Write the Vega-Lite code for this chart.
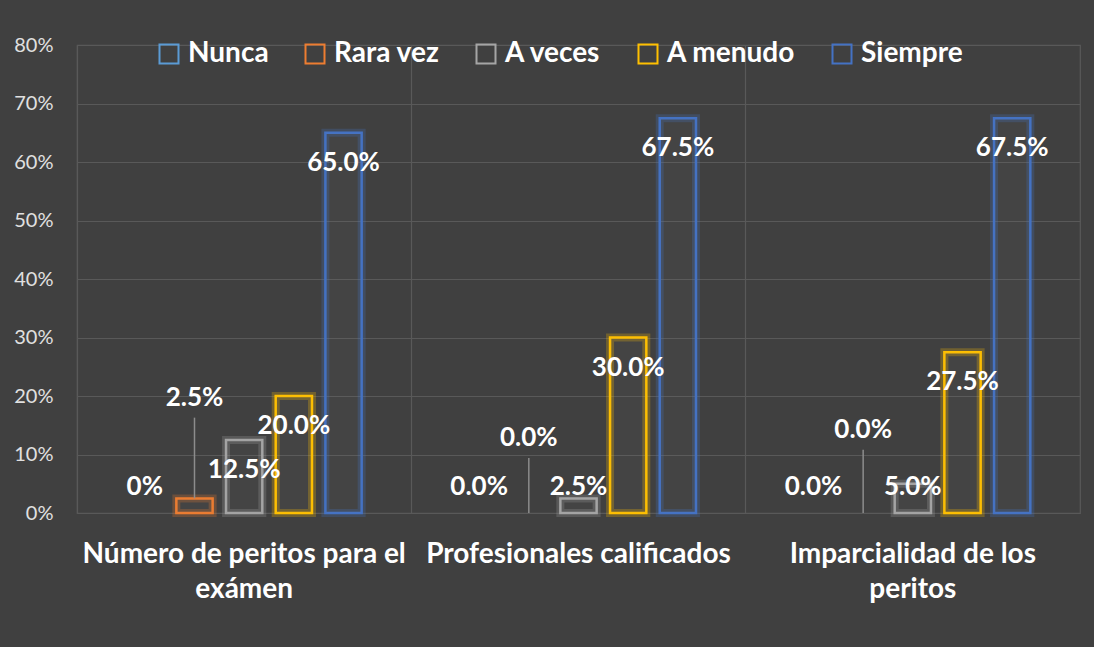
{
  "$schema": "https://vega.github.io/schema/vega-lite/v6.json",
  "width": 1003,
  "height": 468,
  "autosize": {"type": "none"},
  "padding": {"left": 77, "top": 45, "right": 14, "bottom": 134},
  "background": "#404040",
  "config": {
    "font": "Lato",
    "view": {"stroke": "#595959", "strokeWidth": 1.2}
  },
  "data": {
    "values": [
      {"grupo": "Número de peritos para el exámen", "serie": "Nunca", "valor": 0, "etiqueta": "0%"},
      {"grupo": "Número de peritos para el exámen", "serie": "Rara vez", "valor": 2.5, "etiqueta": "2.5%"},
      {"grupo": "Número de peritos para el exámen", "serie": "A veces", "valor": 12.5, "etiqueta": "12.5%"},
      {"grupo": "Número de peritos para el exámen", "serie": "A menudo", "valor": 20.0, "etiqueta": "20.0%"},
      {"grupo": "Número de peritos para el exámen", "serie": "Siempre", "valor": 65.0, "etiqueta": "65.0%"},
      {"grupo": "Profesionales calificados", "serie": "Nunca", "valor": 0, "etiqueta": "0.0%"},
      {"grupo": "Profesionales calificados", "serie": "Rara vez", "valor": 0, "etiqueta": "0.0%"},
      {"grupo": "Profesionales calificados", "serie": "A veces", "valor": 2.5, "etiqueta": "2.5%"},
      {"grupo": "Profesionales calificados", "serie": "A menudo", "valor": 30.0, "etiqueta": "30.0%"},
      {"grupo": "Profesionales calificados", "serie": "Siempre", "valor": 67.5, "etiqueta": "67.5%"},
      {"grupo": "Imparcialidad de los peritos", "serie": "Nunca", "valor": 0, "etiqueta": "0.0%"},
      {"grupo": "Imparcialidad de los peritos", "serie": "Rara vez", "valor": 0, "etiqueta": "0.0%"},
      {"grupo": "Imparcialidad de los peritos", "serie": "A veces", "valor": 5.0, "etiqueta": "5.0%"},
      {"grupo": "Imparcialidad de los peritos", "serie": "A menudo", "valor": 27.5, "etiqueta": "27.5%"},
      {"grupo": "Imparcialidad de los peritos", "serie": "Siempre", "valor": 67.5, "etiqueta": "67.5%"}
    ]
  },
  "transform": [
    {"calculate": "datum.serie == 'Rara vez' ? (datum.grupo == 'Número de peritos para el exámen' ? 19.7 : (datum.grupo == 'Profesionales calificados' ? 12.8 : 14.2)) : max(datum.valor - 5.13, 4.45)", "as": "labelY"},
    {"calculate": "datum.labelY - 3.4", "as": "ruleTop"}
  ],
  "encoding": {
    "x": {
      "field": "grupo",
      "type": "nominal",
      "sort": ["Número de peritos para el exámen", "Profesionales calificados", "Imparcialidad de los peritos"],
      "scale": {"paddingInner": 0, "paddingOuter": 0},
      "title": null,
      "axis": {
        "labelAngle": 0,
        "domain": false,
        "ticks": false,
        "grid": true,
        "bandPosition": 0,
        "gridColor": "#595959",
        "gridWidth": 1.2,
        "labelFont": "Lato",
        "labelFontSize": 28,
        "labelFontWeight": "bold",
        "labelColor": "#ffffff",
        "labelPadding": 27,
        "labelLineHeight": 35,
        "labelLimit": 500,
        "labelExpr": "datum.value == 'Número de peritos para el exámen' ? ['Número de peritos para el', 'exámen'] : (datum.value == 'Imparcialidad de los peritos' ? ['Imparcialidad de los', 'peritos'] : datum.value)"
      }
    },
    "xOffset": {
      "field": "serie",
      "type": "nominal",
      "sort": ["Nunca", "Rara vez", "A veces", "A menudo", "Siempre"],
      "scale": {"paddingInner": 0.27, "paddingOuter": 1.114}
    },
    "stroke": {
      "field": "serie",
      "type": "nominal",
      "scale": {"domain": ["Nunca", "Rara vez", "A veces", "A menudo", "Siempre"], "range": ["#5B9BD5", "#ED7D31", "#A5A5A5", "#FFC000", "#4472C4"]},
      "legend": {
        "title": null,
        "orient": "none",
        "legendX": 78,
        "legendY": -5,
        "direction": "horizontal",
        "columnPadding": 32,
        "symbolType": "square",
        "symbolSize": 361,
        "symbolStrokeWidth": 2,
        "labelOffset": 5,
        "labelFont": "Lato",
        "labelFontSize": 28,
        "labelFontWeight": "bold",
        "labelColor": "#ffffff",
        "labelLimit": 300,
        "encode": {"symbols": {"update": {"fill": {"value": "transparent"}, "fillOpacity": {"value": 0}}}}
      }
    }
  },
  "layer": [
    {
      "transform": [{"filter": "datum.valor > 0"}],
      "mark": {"type": "bar", "filled": false, "strokeWidth": 2.5},
      "encoding": {
        "y": {
          "field": "valor",
          "type": "quantitative",
          "scale": {"domain": [0, 80], "nice": false},
          "title": null,
          "axis": {
            "values": [0, 10, 20, 30, 40, 50, 60, 70, 80],
            "labelExpr": "datum.value + '%'",
            "domain": false,
            "ticks": false,
            "gridColor": "#595959",
            "gridWidth": 1.2,
            "labelFont": "Lato",
            "labelFontSize": 20,
            "labelColor": "#e0e0e0",
            "labelPadding": 24
          }
        }
      }
    },
    {
      "transform": [{"filter": "datum.valor > 0"}],
      "mark": {"type": "bar", "strokeWidth": 8, "strokeOpacity": 0.25, "fillOpacity": 0.06, "fill": "#808080"},
      "encoding": {
        "y": {"field": "valor", "type": "quantitative"}
      }
    },
    {
      "transform": [{"filter": "datum.serie == 'Rara vez'"}],
      "mark": {"type": "rule", "strokeWidth": 1.5},
      "encoding": {
        "y": {"field": "ruleTop", "type": "quantitative"},
        "y2": {"field": "valor"},
        "stroke": {"value": "#8c8c8c"}
      }
    },
    {
      "mark": {"type": "text", "font": "Lato", "fontSize": 26, "fontWeight": "bold", "baseline": "middle", "align": "center"},
      "encoding": {
        "y": {"field": "labelY", "type": "quantitative"},
        "text": {"field": "etiqueta"},
        "stroke": {"value": null},
        "fill": {"value": "#ffffff"}
      }
    }
  ]
}
